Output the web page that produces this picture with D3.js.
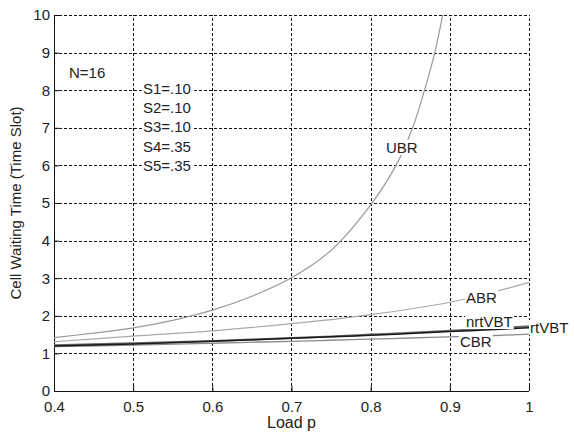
<!DOCTYPE html>
<html>
<head>
<meta charset="utf-8">
<script src="https://cdn.jsdelivr.net/npm/d3@7"></script>
<style>
  html, body { margin: 0; padding: 0; background: #fff; }
  svg { display: block; }
  text { font-family: Arial, "Liberation Sans", sans-serif; fill: #222; }
</style>
</head>
<body>
<svg id="chart" width="574" height="434"></svg>
<script>
// Load values and tick labels
const xTicks = [0.4, 0.5, 0.6, 0.7, 0.8, 0.9, 1.0];
const xTickLabels = ["0.4", "0.5", "0.6", "0.7", "0.8", "0.9", "1"];
const yTicks = [0, 1, 2, 3, 4, 5, 6, 7, 8, 9, 10];

// UBR waiting time (rises steeply as load approaches 0.9)
const ubrLoad = [0.40, 0.45, 0.50, 0.55, 0.60, 0.65, 0.70, 0.75, 0.80, 0.832, 0.853, 0.868, 0.881, 0.891];
const ubrWait = [1.42, 1.54, 1.68, 1.88, 2.15, 2.52, 3.01, 3.74, 4.95, 6.0, 7.0, 8.0, 9.0, 10.0];

// Remaining service classes, sampled on the same load grid
const load = [0.4, 0.5, 0.6, 0.7, 0.75, 0.8, 0.85, 0.9, 0.95, 1.0];
const abrWait    = [1.31, 1.46, 1.60, 1.79, 1.90, 2.03, 2.18, 2.36, 2.60, 2.89];
const rtvbtWait  = [1.22, 1.27, 1.33, 1.41, 1.45, 1.50, 1.55, 1.60, 1.66, 1.72];
const nrtvbtWait = [1.20, 1.25, 1.32, 1.40, 1.44, 1.48, 1.53, 1.58, 1.63, 1.68];
const cbrWait    = [1.18, 1.22, 1.27, 1.32, 1.35, 1.38, 1.41, 1.44, 1.47, 1.51];

// Traffic mix annotation
const mixLabels = ["S1=.10", "S2=.10", "S3=.10", "S4=.35", "S5=.35"];

const svg = d3.select("#chart");
const L = 54, R = 529, T = 15, B = 391;
const x = d3.scaleLinear().domain([0.4, 1.0]).range([L, R]);
const y = d3.scaleLinear().domain([0, 10]).range([B, T]);

svg.append("rect").attr("width", 574).attr("height", 434).attr("fill", "#fff");

svg.append("defs").append("clipPath").attr("id", "plot")
  .append("rect").attr("x", L).attr("y", T).attr("width", R - L).attr("height", B - T);

// Dashed grid
const grid = svg.append("g").attr("stroke", "#111").attr("stroke-width", 1)
  .attr("stroke-dasharray", "3,2").attr("shape-rendering", "crispEdges");
grid.selectAll("line.gx").data(xTicks.slice(1)).join("line")
  .attr("x1", d => Math.round(x(d)) + 0.5).attr("x2", d => Math.round(x(d)) + 0.5)
  .attr("y1", B).attr("y2", T);
grid.selectAll("line.gy").data(yTicks.slice(1)).join("line")
  .attr("y1", d => Math.round(y(d)) + 0.5).attr("y2", d => Math.round(y(d)) + 0.5)
  .attr("x1", L).attr("x2", R);

// Axes
const xAxis = d3.axisBottom(x).tickValues(xTicks)
  .tickFormat((d, i) => xTickLabels[i]).tickSize(-5).tickPadding(10);
const yAxis = d3.axisLeft(y).tickValues(yTicks).tickSize(-5).tickPadding(4);

const gx = svg.append("g").attr("transform", `translate(0,${B})`).call(xAxis);
const gy = svg.append("g").attr("transform", `translate(${L},0)`).call(yAxis);
[gx, gy].forEach(g => {
  g.select(".domain").attr("stroke", "#111");
  g.selectAll(".tick line").attr("stroke", "#111");
  g.selectAll("text").style("font-size", "15px").attr("fill", "#222")
    .style("font-family", "Arial, 'Liberation Sans', sans-serif");
});
gx.select(".domain").attr("d", `M${L},0.5H${R}`);
gy.select(".domain").attr("d", `M0.5,${B}V${T}`);

// Curves
const plot = svg.append("g").attr("clip-path", "url(#plot)");
const line = d3.line().x(d => x(d[0])).y(d => y(d[1])).curve(d3.curveCatmullRom);
const zip = (a, b) => a.map((v, i) => [v, b[i]]);

const series = [
  { data: zip(load, cbrWait),    color: "#8a8a8a", width: 1.3 },
  { data: zip(load, rtvbtWait),  color: "#6a6a6a", width: 2.0 },
  { data: zip(load, nrtvbtWait), color: "#1a1a1a", width: 1.5 },
  { data: zip(load, abrWait),    color: "#a8a8a8", width: 1.2 },
  { data: zip(ubrLoad, ubrWait), color: "#9a9a9a", width: 1.2 }
];
plot.selectAll("path.s").data(series).join("path")
  .attr("fill", "none")
  .attr("stroke", d => d.color)
  .attr("stroke-width", d => d.width)
  .attr("d", d => line(d.data));

// Labels, each on a white box so grid lines and curves stop at the text
const labels = svg.append("g");
const lab = (t, px, py, boxed) => {
  const g = labels.append("g");
  const txt = g.append("text").attr("x", px).attr("y", py)
    .style("font-size", "15px").text(t);
  if (boxed) {
    const bb = txt.node().getBBox();
    g.insert("rect", "text").attr("x", bb.x - 1).attr("y", bb.y + 1)
      .attr("width", bb.width + 2).attr("height", bb.height - 2).attr("fill", "#fff");
  }
};
lab("UBR", 386, 153, true);
lab("ABR", 466, 303, true);
lab("nrtVBT", 466, 327, true);
lab("rtVBT", 530, 333, true);
lab("CBR", 460, 347, true);
lab("N=16", 69, 78, true);
mixLabels.forEach((t, i) => lab(t, 143, 94 + i * 19.2, true));

// Axis titles
svg.append("text").attr("x", (L + R) / 2).attr("y", 428).attr("text-anchor", "middle")
  .style("font-size", "16px").text("Load p");
svg.append("text").attr("transform", `translate(21,${(T + B) / 2}) rotate(-90)`)
  .attr("text-anchor", "middle").style("font-size", "15px")
  .text("Cell Waiting Time (Time Slot)");
</script>
</body>
</html>
